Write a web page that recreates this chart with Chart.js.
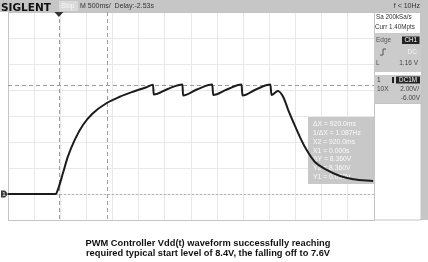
<!DOCTYPE html>
<html>
<head>
<meta charset="utf-8">
<script src="https://cdn.jsdelivr.net/npm/chart.js@4.4.1/dist/chart.umd.min.js"></script>
<style>
  body { margin: 0; background: #fff; }
  canvas { display: block; }
</style>
</head>
<body>
<canvas id="scope" width="428" height="262"></canvas>
<script>
// Vdd(t) trace (time in s from trigger, volts)
const timeS = [-0.973, -0.063, 0.0, 0.077, 0.172, 0.301, 0.460, 0.651, 0.908, 1.163, 1.418, 1.674,
  1.801, 1.814, 2.082, 2.364, 2.375, 2.638, 2.935, 2.950, 3.213, 3.494, 3.510, 3.768, 4.046, 4.065,
  4.190, 4.291, 4.387, 4.483, 4.611, 4.739, 4.898, 5.123, 5.377, 5.632, 6.010];
const vddV = [0, 0, 0.56, 1.59, 2.87, 4.15, 5.31, 6.21, 6.98, 7.48, 7.87, 8.21,
  8.41, 7.65, 8.08, 8.42, 7.58, 8.04, 8.42, 7.62, 8.04, 8.42, 7.58, 8.04, 8.42, 7.62,
  7.92, 7.46, 6.46, 5.54, 4.38, 3.38, 2.46, 1.85, 1.38, 1.13, 1.0];

// screen setup: 500ms/div, 14 divs, 2V/div, offset -6V
const timePerDiv = 0.5;
const hDivs = 14;
const xMin = -0.973;
const xMax = xMin + timePerDiv * hDivs;
const voltTicks = [-2, 0, 2, 4, 6, 8, 10, 12, 14];
const gridTimes = Array.from({ length: hDivs + 1 }, (_, k) => xMin + k * timePerDiv);

// cursors
const cursorX = [0, 0.92];
const cursorY = [0, 8.36];
const readout = ['\u0394X = 920.0ms', '1/\u0394X = 1.087Hz', 'X2 = 920.0ms', 'X1 = 0.000s',
  '\u0394Y = 8.360V', 'Y2 = 8.360V', 'Y1 = 0.000V'];

const caption = ['PWM Controller Vdd(t) waveform successfully reaching',
  'required typical start level of 8.4V, the falling off to 7.6V'];

const F = '"Liberation Sans", Arial, sans-serif';

const line = (c, x1, y1, x2, y2) => { c.beginPath(); c.moveTo(x1, y1); c.lineTo(x2, y2); c.stroke(); };
const txt = (c, s, x, y, size, color, align) => {
  c.font = size + 'px ' + F; c.fillStyle = color; c.textAlign = align || 'left';
  c.textBaseline = 'middle'; c.fillText(s, x, y);
};

const overlay = {
  id: 'scopeOverlay',
  beforeDraw(chart) {
    const c = chart.ctx;
    c.save(); c.fillStyle = '#fff'; c.fillRect(0, 0, chart.width, chart.height); c.restore();
  },
  beforeDatasetsDraw(chart) {
    const c = chart.ctx, a = chart.chartArea, x = chart.scales.x, y = chart.scales.y;
    c.save();
    // plot border
    c.strokeStyle = '#c4c4c4'; c.lineWidth = 1;
    c.strokeRect(Math.round(a.left) + 0.5, Math.round(a.top) + 0.5, Math.round(a.width), Math.round(a.height));
    // cursor lines
    c.strokeStyle = '#9c9c9c';
    c.setLineDash([4, 3]);
    cursorX.forEach(t => {
      const px = Math.round(x.getPixelForValue(t)) + 0.5;
      line(c, px, a.top, px, a.bottom);
    });
    const y2 = Math.round(y.getPixelForValue(cursorY[1])) + 0.5;
    line(c, a.left, y2, a.right, y2);
    c.strokeStyle = '#b4b4b4';
    c.setLineDash([2, 2]);
    const y1 = Math.round(y.getPixelForValue(cursorY[0])) + 0.5;
    line(c, a.left, y1, a.right, y1);
    c.setLineDash([]);
    // cursor readout box
    c.fillStyle = '#c8c8c8';
    c.fillRect(308, 117, Math.round(a.right) - 308, 67);
    readout.forEach((s, i) => txt(c, s, 313, 124 + i * 8.9, 6.8, '#fafafa'));
    c.restore();
  },
  afterDraw(chart) {
    const c = chart.ctx, a = chart.chartArea, x = chart.scales.x, y = chart.scales.y;
    c.save();
    // top bar
    c.fillStyle = '#c6c6c6';
    c.fillRect(0, 0, 428, 12);
    c.fillRect(421, 0, 7, 220);
    c.font = 'bold 10.5px "DejaVu Sans", sans-serif'; c.fillStyle = '#111';
    c.textAlign = 'left'; c.textBaseline = 'alphabetic';
    c.fillText('SIGLENT', 1, 10.5);
    c.fillStyle = '#dadada'; c.fillRect(59, 1, 19, 10);
    txt(c, 'Stop', 61, 6.5, 6.5, '#f8f8f8');
    txt(c, 'M 500ms/  Delay:-2.53s', 80, 6.5, 7, '#333');
    txt(c, 'f < 10Hz', 420, 6.5, 7, '#333', 'right');

    // trigger marker
    const tx = x.getPixelForValue(0);
    c.fillStyle = '#333';
    c.beginPath(); c.moveTo(tx - 4.5, 12); c.lineTo(tx + 4.5, 12); c.lineTo(tx, 17); c.closePath(); c.fill();

    // ground marker for CH1
    const gy = y.getPixelForValue(0);
    c.fillStyle = '#3a3a3a';
    c.beginPath(); c.moveTo(1, gy - 3.5); c.lineTo(5, gy - 3.5); c.lineTo(8, gy); c.lineTo(5, gy + 3.5); c.lineTo(1, gy + 3.5); c.closePath(); c.fill();
    txt(c, '1', 3.8, gy + 0.3, 6, '#fff', 'center');

    // right panel
    c.strokeStyle = '#c4c4c4'; c.lineWidth = 1;
    c.strokeRect(374.5, 12.5, 46, 21);
    txt(c, 'Sa 200kSa/s', 376, 17, 6.3, '#333');
    txt(c, 'Curr 1.40Mpts', 375, 27, 6.3, '#333');
    c.fillStyle = '#cbcbcb';
    c.fillRect(374, 33, 47, 39);
    c.fillRect(374, 75, 47, 28);
    txt(c, 'Edge', 376, 40, 6.5, '#555');
    c.fillStyle = '#222'; c.fillRect(402, 36.5, 17.5, 7.5);
    txt(c, 'CH1', 410.8, 40.5, 6.3, '#fff', 'center');
    c.strokeStyle = '#555';
    c.beginPath(); c.moveTo(380, 55); c.lineTo(383, 55); c.lineTo(383, 49); c.lineTo(386, 49); c.stroke();
    txt(c, 'DC', 417, 52, 6.5, '#f4f4f4', 'right');
    txt(c, 'L', 376, 63, 6.5, '#555');
    txt(c, '1.16 V', 418, 63, 6.5, '#444', 'right');
    txt(c, '1', 377, 80, 6.5, '#333');
    c.fillStyle = '#222'; c.fillRect(392, 77, 2, 6);
    c.fillRect(396, 76.5, 24, 7);
    txt(c, 'DC1M', 408, 80.2, 6.3, '#fff', 'center');
    txt(c, '10X', 377, 89.5, 6.5, '#444');
    txt(c, '2.00V/', 419, 89.5, 6.5, '#444', 'right');
    txt(c, '-6.00V', 420, 98, 6.5, '#444', 'right');
    c.strokeStyle = '#c4c4c4';
    c.strokeRect(374.5, 103.5, 46.5, 116.5);

    // caption
    c.font = 'bold 9.3px ' + F; c.fillStyle = '#111';
    c.textAlign = 'center'; c.textBaseline = 'middle';
    caption.forEach((s, i) => c.fillText(s, 208, 243.5 + i * 10));
    c.restore();
  }
};

new Chart(document.getElementById('scope'), {
  type: 'line',
  data: {
    datasets: [{
      data: timeS.map((t, i) => ({ x: t, y: vddV[i] })),
      borderColor: '#1c1c1c',
      borderWidth: 2,
      pointRadius: 0,
      cubicInterpolationMode: 'monotone',
      fill: false
    }]
  },
  options: {
    responsive: false,
    animation: false,
    devicePixelRatio: 1,
    layout: { padding: { left: 8, top: 12, right: 54, bottom: 42 } },
    plugins: { legend: { display: false }, tooltip: { enabled: false } },
    scales: {
      x: {
        type: 'linear', min: xMin, max: xMax,
        afterBuildTicks: s => { s.ticks = gridTimes.map(v => ({ value: v })); },
        ticks: { display: false },
        grid: { color: '#e8e8e8', drawTicks: false },
        border: { display: false }
      },
      y: {
        min: -2, max: 14,
        afterBuildTicks: s => { s.ticks = voltTicks.map(v => ({ value: v })); },
        ticks: { display: false },
        grid: { color: '#e8e8e8', drawTicks: false },
        border: { display: false }
      }
    }
  },
  plugins: [overlay]
});
</script>
</body>
</html>
